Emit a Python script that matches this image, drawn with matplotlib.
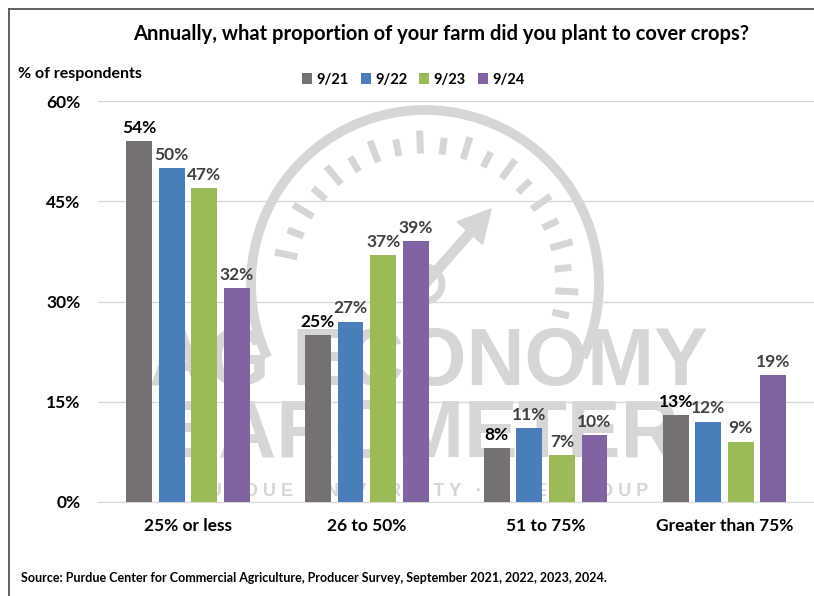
import matplotlib.pyplot as plt
import numpy as np
from matplotlib.patches import Arc, FancyArrow
from matplotlib.lines import Line2D

categories = ["25% or less", "26 to 50%", "51 to 75%", "Greater than 75%"]
years = ["9/21", "9/22", "9/23", "9/24"]
v21 = [54, 25, 8, 13]
v22 = [50, 27, 11, 12]
v23 = [47, 37, 7, 9]
v24 = [32, 39, 10, 19]
yticks = [0, 15, 30, 45, 60]

colors = ["#767171", "#4a7ebb", "#9bbb59", "#8064a2"]
label_colors = ["#000000", "#404040", "#404040", "#404040"]
wm = "#d6d6d6"

plt.rcParams['font.family'] = ['Lato', 'DejaVu Sans']

fig = plt.figure(figsize=(8.14, 5.96), dpi=100)

# watermark layer (logo) in pixel coords
bg = fig.add_axes([0, 0, 1, 1], zorder=0)
bg.set_xlim(0, 814)
bg.set_ylim(596, 0)
bg.axis('off')
cx, cy, r = 425, 284, 174
bg.add_patch(Arc((cx, cy), 2 * r, 2 * r, theta1=155, theta2=385, color=wm, lw=7))
for k, a in enumerate(np.arange(168, -15, -9.5)):
    t = np.deg2rad(a)
    r1 = 150 if k % 2 == 0 else 144
    r2 = 134
    bg.add_line(Line2D([cx + r2 * np.cos(t), cx + r1 * np.cos(t)],
                       [cy - r2 * np.sin(t), cy - r1 * np.sin(t)], color=wm, lw=5))
bg.add_patch(FancyArrow(cx, cy, 66, -75, width=9, head_width=34, head_length=32,
                        color=wm, length_includes_head=True))
bg.add_patch(Arc((cx, cy), 34, 34, color=wm, lw=5))
wm_font = ['Liberation Sans', 'DejaVu Sans']
bg.text(428, 364, "AG ECONOMY", ha='center', va='center', fontsize=58, fontweight='bold',
        family=wm_font, color=wm)
bg.text(420, 436, "BAROMETER", ha='center', va='center', fontsize=58, fontweight='bold',
        family=wm_font, color=wm)
bg.text(420, 491, "P U R D U E   U N I V E R S I T Y   \u00b7   C M E   G R O U P", ha='center',
        va='center', fontsize=13, fontweight='bold', family=wm_font, color=wm)
# frame
bg.add_line(Line2D([9, 9], [9, 596], color='#555555', lw=1.3))
bg.add_line(Line2D([9, 814], [9, 9], color='#555555', lw=1.3))

ax = fig.add_axes([0.121, 0.158, 0.879, 0.672], zorder=1)
ax.patch.set_visible(False)

x = np.arange(len(categories))
step = 0.182
w = 0.145
series = [v21, v22, v23, v24]
for i, vals in enumerate(series):
    pos = x + (i - 1.5) * step
    bars = ax.bar(pos, vals, width=w, color=colors[i], label=years[i], zorder=3)
    for b, v in zip(bars, vals):
        ax.text(b.get_x() + b.get_width() / 2, v + 0.8, f"{v}%", ha='center', va='bottom',
                fontsize=12.5, fontweight='bold', color=label_colors[i], zorder=4)

ax.set_xlim(-0.5, 3.5)
ax.set_ylim(0, 60)
ax.set_yticks(yticks)
ax.set_yticklabels([f"{t}%" for t in yticks], fontsize=12.5, fontweight='bold')
ax.set_xticks(x)
ax.set_xticklabels(categories, fontsize=12.5, fontweight='bold')
ax.tick_params(axis='both', length=0)
ax.tick_params(axis='y', pad=13)
ax.tick_params(axis='x', pad=12)
ax.grid(axis='y', color='#d9d9d9', linewidth=1, zorder=0)
for s in ['top', 'right', 'left']:
    ax.spines[s].set_visible(False)
ax.spines['bottom'].set_color('#d9d9d9')

fig.text(0.542, 0.943, "Annually, what proportion of your farm did you plant to cover crops?",
         ha='center', va='center', fontsize=14.5, fontweight='bold')
fig.text(0.022, 0.876, "% of respondents", ha='left', va='center', fontsize=11.5, fontweight='bold')
fig.text(0.026, 0.030, "Source: Purdue Center for Commercial Agriculture, Producer Survey, September 2021, 2022, 2023, 2024.",
         ha='left', va='center', fontsize=9, fontweight='bold')

ax.legend(loc='center', bbox_to_anchor=(0.44, 1.054), ncol=4, frameon=False,
          prop={'weight': 'bold', 'size': 10.5}, handlelength=0.7, handleheight=0.7,
          handletextpad=0.3, columnspacing=0.8)

fig.savefig("out.png", dpi=100)
